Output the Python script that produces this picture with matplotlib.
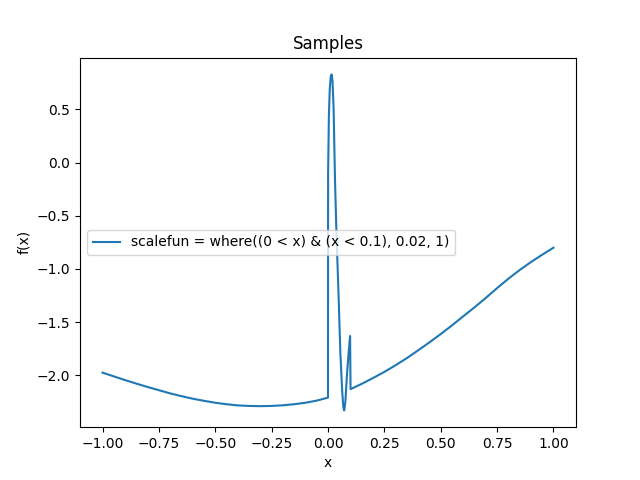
import matplotlib
matplotlib.use("Agg")
import matplotlib.pyplot as plt

# values
x_left = [-1.0, -0.95, -0.9, -0.85, -0.8, -0.75, -0.7, -0.65, -0.6, -0.55, -0.5,
          -0.45, -0.4, -0.35, -0.3, -0.25, -0.2, -0.15, -0.1, -0.05, 0.0]
y_left = [-1.975, -2.01, -2.045, -2.078, -2.11, -2.14, -2.17, -2.196, -2.22, -2.24, -2.258,
          -2.272, -2.283, -2.288, -2.29, -2.288, -2.282, -2.272, -2.258, -2.238, -2.21]

x_spike = [0.0005, 0.004, 0.008, 0.012, 0.016, 0.02, 0.025, 0.031, 0.038, 0.046,
           0.055, 0.063, 0.068, 0.072, 0.077, 0.084, 0.091, 0.098]
y_spike = [-0.1, 0.45, 0.7, 0.81, 0.83, 0.77, 0.5, -0.16, -0.7, -1.19,
           -1.8, -2.15, -2.3, -2.33, -2.25, -2.0, -1.8, -1.63]

x_right = [0.1, 0.15, 0.2, 0.25, 0.3, 0.35, 0.4, 0.45, 0.5, 0.55,
           0.6, 0.65, 0.7, 0.75, 0.8, 0.85, 0.9, 0.95, 1.0]
y_right = [-2.13, -2.08, -2.025, -1.968, -1.905, -1.838, -1.765, -1.69, -1.612, -1.53,
           -1.445, -1.36, -1.272, -1.18, -1.092, -1.01, -0.935, -0.866, -0.8]

x = x_left + x_spike + x_right
y = y_left + y_spike + y_right

fig, ax = plt.subplots(figsize=(6.4, 4.8), dpi=100)

ax.plot(x, y, label='scalefun = where((0 < x) & (x < 0.1), 0.02, 1)')

plt.title('Samples')
plt.xlabel('x')
plt.ylabel('f(x)')
plt.legend(loc='center left')
plt.savefig('out.png')
